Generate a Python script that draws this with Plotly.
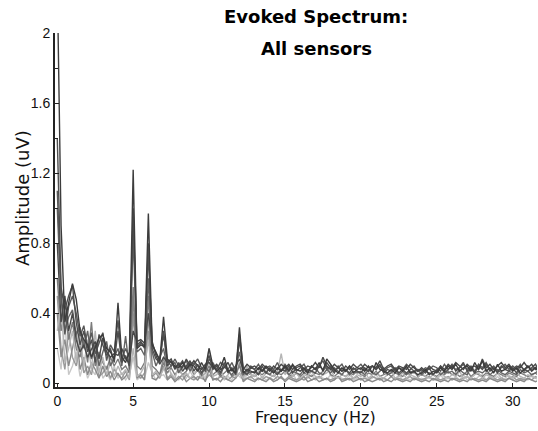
import plotly.graph_objects as go

# Frequency bins (Hz), 0.25 Hz resolution
freq_step = 0.25

# Amplitude (uV) per sensor
s1 = [2.30,0.90,0.35,0.45, 0.57,0.48,0.30,0.25, 0.22,0.15,0.20,0.26, 0.28,0.20,0.18,0.14,
      0.46,0.15,0.12,0.18, 1.22,0.20,0.22,0.21, 0.97,0.22,0.18,0.13, 0.38,0.14,0.12,0.10,
      0.09,0.12,0.08,0.11, 0.10,0.07,0.12,0.08, 0.20,0.10,0.07,0.09, 0.15,0.07,0.08,0.06,
      0.32,0.06,0.08,0.07, 0.06,0.09,0.07,0.10, 0.08,0.06,0.09,0.07, 0.10,0.07,0.11,0.08,
      0.07,0.09,0.06,0.10, 0.08,0.12,0.07,0.14, 0.11,0.08,0.06,0.09, 0.07,0.10,0.06,0.08,
      0.09,0.07,0.10,0.06, 0.12,0.08,0.07,0.06, 0.08,0.06,0.09,0.07, 0.10,0.06,0.07,0.05,
      0.06,0.08,0.05,0.07, 0.06,0.09,0.07,0.10, 0.08,0.11,0.07,0.09, 0.10,0.07,0.12,0.08,
      0.13,0.07,0.09,0.06, 0.11,0.07,0.08,0.10, 0.07,0.09,0.06,0.08, 0.10,0.07,0.09,0.06,
      0.08]
s2 = [1.40,0.55,0.42,0.50, 0.56,0.35,0.22,0.30, 0.18,0.25,0.12,0.28, 0.22,0.16,0.20,0.12,
      0.30,0.12,0.16,0.10, 1.00,0.22,0.24,0.20, 0.80,0.20,0.14,0.12, 0.30,0.10,0.13,0.08,
      0.12,0.07,0.10,0.13, 0.07,0.11,0.06,0.10, 0.16,0.08,0.10,0.06, 0.12,0.06,0.09,0.05,
      0.25,0.07,0.05,0.09, 0.08,0.05,0.10,0.06, 0.09,0.07,0.05,0.08, 0.07,0.10,0.06,0.09,
      0.10,0.06,0.08,0.07, 0.06,0.10,0.08,0.12, 0.09,0.06,0.10,0.07, 0.08,0.06,0.09,0.07,
      0.06,0.09,0.07,0.10, 0.08,0.11,0.06,0.08, 0.07,0.09,0.06,0.08, 0.06,0.08,0.10,0.07,
      0.08,0.06,0.09,0.05, 0.07,0.10,0.06,0.08, 0.11,0.07,0.09,0.12, 0.07,0.09,0.06,0.10,
      0.08,0.11,0.07,0.09, 0.06,0.10,0.08,0.07, 0.09,0.06,0.10,0.08, 0.07,0.09,0.11,0.07,
      0.09]
s3 = [1.00,0.48,0.30,0.38, 0.42,0.28,0.32,0.20, 0.30,0.14,0.22,0.10, 0.18,0.24,0.10,0.15,
      0.20,0.10,0.27,0.08, 0.85,0.18,0.20,0.16, 0.60,0.18,0.10,0.15, 0.20,0.08,0.10,0.12,
      0.06,0.10,0.13,0.07, 0.12,0.08,0.05,0.09, 0.07,0.12,0.08,0.05, 0.10,0.07,0.05,0.08,
      0.18,0.05,0.07,0.06, 0.07,0.05,0.08,0.06, 0.05,0.08,0.06,0.07, 0.09,0.05,0.07,0.06,
      0.05,0.08,0.06,0.07, 0.09,0.06,0.05,0.08, 0.06,0.09,0.07,0.05, 0.08,0.05,0.07,0.06,
      0.07,0.05,0.08,0.06, 0.05,0.07,0.09,0.05, 0.06,0.08,0.05,0.07, 0.05,0.07,0.06,0.08,
      0.05,0.07,0.06,0.05, 0.08,0.05,0.07,0.06, 0.07,0.05,0.08,0.06, 0.05,0.09,0.06,0.07,
      0.06,0.08,0.05,0.07, 0.08,0.06,0.05,0.07, 0.06,0.05,0.08,0.06, 0.07,0.05,0.06,0.08,
      0.06]
s4 = [0.60,0.30,0.42,0.25, 0.35,0.20,0.15,0.25, 0.12,0.35,0.10,0.18, 0.12,0.08,0.15,0.10,
      0.14,0.08,0.10,0.06, 0.55,0.10,0.08,0.12, 0.50,0.10,0.08,0.05, 0.12,0.06,0.09,0.05,
      0.08,0.05,0.07,0.10, 0.05,0.08,0.04,0.06, 0.10,0.05,0.07,0.04, 0.06,0.08,0.04,0.06,
      0.10,0.04,0.06,0.05, 0.04,0.06,0.05,0.07, 0.05,0.04,0.06,0.05, 0.07,0.05,0.04,0.06,
      0.04,0.06,0.05,0.04, 0.06,0.05,0.07,0.10, 0.05,0.04,0.06,0.05, 0.04,0.06,0.05,0.07,
      0.05,0.04,0.06,0.05, 0.07,0.04,0.05,0.06, 0.04,0.06,0.05,0.04, 0.06,0.05,0.07,0.04,
      0.05,0.04,0.06,0.05, 0.04,0.06,0.05,0.07, 0.05,0.06,0.04,0.05, 0.07,0.04,0.06,0.05,
      0.04,0.06,0.05,0.04, 0.06,0.05,0.04,0.06, 0.05,0.04,0.06,0.05, 0.04,0.05,0.06,0.04,
      0.05]
s5 = [0.50,0.20,0.08,0.30, 0.15,0.10,0.22,0.06, 0.10,0.05,0.15,0.04, 0.06,0.10,0.03,0.08,
      0.05,0.03,0.07,0.02, 0.40,0.05,0.03,0.06, 0.30,0.04,0.06,0.03, 0.10,0.03,0.05,0.02,
      0.04,0.02,0.05,0.03, 0.02,0.04,0.03,0.02, 0.05,0.03,0.02,0.04, 0.03,0.02,0.04,0.03,
      0.06,0.02,0.03,0.04, 0.02,0.03,0.02,0.04, 0.03,0.02,0.04,0.03, 0.02,0.04,0.03,0.02,
      0.03,0.02,0.04,0.02, 0.03,0.04,0.02,0.03, 0.02,0.03,0.04,0.02, 0.03,0.02,0.03,0.04,
      0.02,0.03,0.02,0.04, 0.03,0.02,0.03,0.02, 0.04,0.02,0.03,0.02, 0.03,0.04,0.02,0.03,
      0.02,0.03,0.04,0.02, 0.03,0.02,0.03,0.04, 0.02,0.03,0.02,0.03, 0.04,0.02,0.03,0.02,
      0.03,0.02,0.04,0.03, 0.02,0.03,0.02,0.03, 0.04,0.02,0.03,0.02, 0.03,0.02,0.04,0.03,
      0.02]
s6 = [0.30,0.45,0.12,0.20, 0.30,0.12,0.28,0.10, 0.25,0.08,0.30,0.06, 0.15,0.05,0.12,0.04,
      0.10,0.05,0.08,0.03, 0.20,0.04,0.06,0.10, 0.25,0.05,0.07,0.04, 0.08,0.12,0.05,0.03,
      0.10,0.04,0.06,0.03, 0.05,0.08,0.03,0.06, 0.20,0.04,0.05,0.08, 0.03,0.05,0.09,0.04,
      0.06,0.03,0.10,0.05, 0.04,0.07,0.03,0.06, 0.05,0.04,0.06,0.17, 0.05,0.08,0.04,0.06,
      0.03,0.05,0.04,0.07, 0.04,0.03,0.05,0.06, 0.08,0.04,0.03,0.05, 0.04,0.06,0.03,0.05,
      0.04,0.07,0.03,0.05, 0.06,0.04,0.03,0.05, 0.07,0.03,0.04,0.06, 0.03,0.05,0.04,0.03,
      0.06,0.04,0.03,0.05, 0.03,0.06,0.04,0.03, 0.05,0.04,0.07,0.03, 0.04,0.03,0.05,0.06,
      0.03,0.05,0.04,0.03, 0.06,0.03,0.05,0.04, 0.03,0.06,0.04,0.03, 0.05,0.04,0.03,0.05,
      0.04]
s7 = [0.80,0.35,0.50,0.30, 0.40,0.25,0.18,0.22, 0.15,0.20,0.24,0.14, 0.26,0.18,0.15,0.17,
      0.16,0.20,0.14,0.12, 0.30,0.24,0.25,0.23, 0.40,0.24,0.16,0.11, 0.15,0.12,0.14,0.09,
      0.11,0.09,0.14,0.10, 0.13,0.10,0.08,0.11, 0.12,0.09,0.11,0.08, 0.09,0.12,0.07,0.10,
      0.14,0.08,0.11,0.09, 0.10,0.08,0.11,0.09, 0.07,0.10,0.08,0.11, 0.09,0.11,0.08,0.10,
      0.11,0.08,0.10,0.09, 0.12,0.09,0.15,0.10, 0.08,0.11,0.09,0.07, 0.10,0.08,0.11,0.09,
      0.08,0.11,0.09,0.10, 0.09,0.13,0.08,0.10, 0.11,0.08,0.10,0.09, 0.08,0.11,0.09,0.07,
      0.09,0.07,0.10,0.08, 0.07,0.10,0.08,0.11, 0.09,0.12,0.10,0.08, 0.11,0.09,0.10,0.08,
      0.14,0.09,0.11,0.08, 0.10,0.12,0.09,0.11, 0.08,0.10,0.09,0.12, 0.09,0.11,0.08,0.10,
      0.09]
s8 = [0.40,0.15,0.25,0.10, 0.20,0.30,0.08,0.15, 0.05,0.12,0.08,0.03, 0.10,0.04,0.07,0.02,
      0.06,0.02,0.04,0.08, 0.50,0.03,0.05,0.02, 0.40,0.03,0.02,0.05, 0.15,0.02,0.04,0.01,
      0.03,0.05,0.01,0.03, 0.04,0.02,0.05,0.01, 0.08,0.02,0.03,0.01, 0.04,0.02,0.01,0.03,
      0.12,0.01,0.03,0.02, 0.01,0.03,0.02,0.01, 0.03,0.01,0.02,0.04, 0.01,0.03,0.02,0.01,
      0.02,0.04,0.01,0.02, 0.03,0.01,0.02,0.03, 0.01,0.02,0.04,0.01, 0.02,0.03,0.01,0.02,
      0.03,0.01,0.02,0.01, 0.02,0.03,0.01,0.02, 0.01,0.03,0.02,0.01, 0.02,0.01,0.03,0.02,
      0.01,0.02,0.01,0.03, 0.02,0.01,0.02,0.01, 0.03,0.02,0.01,0.02, 0.01,0.03,0.02,0.01,
      0.02,0.01,0.03,0.02, 0.01,0.02,0.01,0.03, 0.02,0.01,0.02,0.01, 0.03,0.02,0.01,0.02,
      0.01]
s9 = [1.10,0.52,0.28,0.44, 0.50,0.40,0.27,0.33, 0.20,0.29,0.17,0.23, 0.29,0.13,0.22,0.18,
      0.36,0.14,0.20,0.15, 0.95,0.21,0.23,0.22, 0.75,0.23,0.17,0.14, 0.28,0.13,0.10,0.14,
      0.10,0.13,0.09,0.12, 0.11,0.14,0.09,0.07, 0.14,0.11,0.08,0.12, 0.10,0.08,0.12,0.07,
      0.28,0.09,0.07,0.10, 0.08,0.11,0.07,0.09, 0.10,0.08,0.12,0.07, 0.11,0.08,0.10,0.07,
      0.09,0.11,0.07,0.10, 0.08,0.10,0.13,0.08, 0.10,0.07,0.09,0.11, 0.07,0.10,0.08,0.09,
      0.11,0.08,0.07,0.10, 0.08,0.10,0.07,0.09, 0.10,0.07,0.09,0.08, 0.11,0.09,0.07,0.08,
      0.07,0.09,0.08,0.10, 0.09,0.07,0.11,0.08, 0.10,0.08,0.09,0.11, 0.08,0.10,0.07,0.11,
      0.09,0.12,0.08,0.10, 0.07,0.09,0.11,0.08, 0.10,0.08,0.11,0.07, 0.10,0.08,0.09,0.11,
      0.08]
s10 = [0.20,0.08,0.35,0.05, 0.10,0.18,0.04,0.12, 0.03,0.08,0.05,0.15, 0.03,0.06,0.02,0.10,
       0.03,0.06,0.02,0.05, 0.15,0.02,0.04,0.03, 0.12,0.06,0.02,0.04, 0.05,0.02,0.06,0.03,
       0.02,0.05,0.03,0.07, 0.03,0.02,0.06,0.03, 0.12,0.03,0.02,0.05, 0.02,0.04,0.02,0.06,
       0.04,0.02,0.05,0.03, 0.06,0.02,0.04,0.02, 0.03,0.05,0.02,0.04, 0.02,0.03,0.06,0.02,
       0.04,0.02,0.03,0.05, 0.02,0.04,0.03,0.02, 0.05,0.02,0.04,0.03, 0.02,0.05,0.02,0.03,
       0.02,0.04,0.02,0.03, 0.05,0.02,0.03,0.02, 0.04,0.02,0.05,0.02, 0.03,0.02,0.04,0.02,
       0.03,0.02,0.04,0.02, 0.02,0.05,0.02,0.03, 0.02,0.04,0.02,0.05, 0.02,0.03,0.02,0.04,
       0.05,0.02,0.03,0.02, 0.04,0.02,0.03,0.05, 0.02,0.04,0.02,0.03, 0.02,0.05,0.03,0.02,
       0.03]

sensors = [s10, s5, s8, s4, s6, s3, s9, s2, s7, s1]
sensor_colors = ["#c8c8c8", "#9a9a9a", "#8a8a8a", "#7c7c7c", "#b5b5b5",
                 "#646464", "#585858", "#4e4e4e", "#474747", "#3c3c3c"]

x_ticks = [0, 5, 10, 15, 20, 25, 30]
y_ticks = [0, 0.4, 0.8, 1.2, 1.6, 2]
y_tick_labels = ["0", "0.4", "0.8", "1.2", "1.6", "2"]

fig = go.Figure()
for vals, col in zip(sensors, sensor_colors):
    freqs = [i * freq_step for i in range(len(vals))]
    fig.add_trace(go.Scatter(x=freqs, y=vals, mode="lines",
                             line=dict(color=col, width=1.4),
                             showlegend=False, hoverinfo="skip"))

W, H = 538, 431
L, R, T, B = 55, 1, 33, 44
pw, ph = W - L - R, H - T - B

def px(xp):
    return (xp - L) / pw

def py(yp):
    return (H - B - yp) / ph

tick_font = dict(family="Liberation Sans Narrow, Liberation Sans, Arial", size=14, color="#111")

fig.update_layout(
    width=W, height=H,
    margin=dict(l=L, r=R, t=T, b=B),
    plot_bgcolor="white", paper_bgcolor="white",
    xaxis=dict(range=[-0.15, 31.6], tickvals=x_ticks, ticks="inside", ticklen=4,
               tickcolor="#222", showgrid=False, zeroline=False,
               showline=True, linecolor="#222", linewidth=2, tickfont=tick_font),
    yaxis=dict(range=[-0.02, 2.0], tickvals=y_ticks, ticktext=y_tick_labels,
               ticks="inside", ticklen=4, tickcolor="#222",
               minor=dict(tickvals=[0.2, 0.6, 1.0, 1.4, 1.8], ticks="inside", ticklen=3, tickcolor="#222"),
               showgrid=False, zeroline=False,
               showline=True, linecolor="#222", linewidth=2, tickfont=tick_font),
    annotations=[
        dict(text="<b>Evoked Spectrum:</b>", x=px(316), y=py(17), xref="paper", yref="paper",
             showarrow=False, xanchor="center", yanchor="middle",
             font=dict(family="DejaVu Sans", size=18, color="#000")),
        dict(text="<b>All sensors</b>", x=px(316), y=py(48), xref="paper", yref="paper",
             showarrow=False, xanchor="center", yanchor="middle",
             font=dict(family="DejaVu Sans", size=18, color="#000")),
        dict(text="Amplitude (uV)", x=px(22), y=py(198), xref="paper", yref="paper",
             showarrow=False, xanchor="center", yanchor="middle", textangle=-90,
             font=dict(family="DejaVu Sans", size=18, color="#111")),
        dict(text="Frequency (Hz)", x=px(315), y=py(418), xref="paper", yref="paper",
             showarrow=False, xanchor="center", yanchor="middle",
             font=dict(family="DejaVu Sans", size=16, color="#111")),
    ],
)

fig.write_html("out.html")
